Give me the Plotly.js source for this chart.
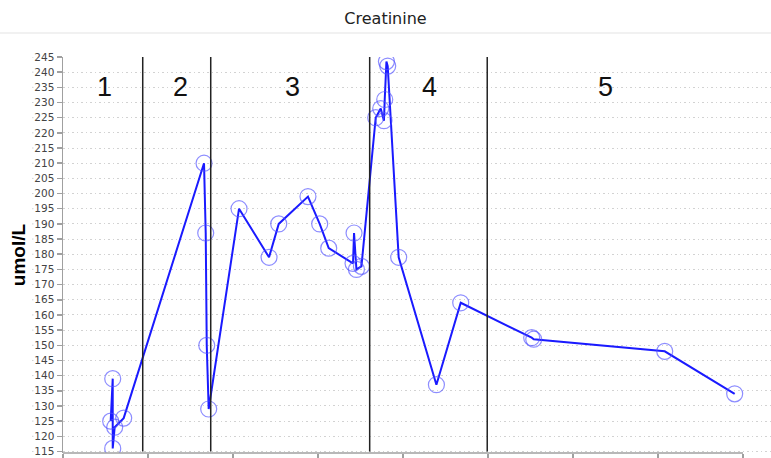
<!DOCTYPE html>
<html>
<head>
<meta charset="utf-8">
<script src="https://cdn.plot.ly/plotly-3.0.1.min.js"></script>
<style>html,body{margin:0;padding:0;background:#fff;}#chart{width:771px;height:458px;}</style>
</head>
<body>
<div id="chart"></div>
<script>
// Time positions (arbitrary units, one x tick = 1 unit) and creatinine values
const xValues = [0.561, 0.585, 0.585, 0.608, 0.714,
                 1.659, 1.679, 1.691, 1.714,
                 2.071, 2.424, 2.538, 2.882, 3.020, 3.126, 3.412, 3.424, 3.452, 3.511,
                 3.679, 3.738, 3.776, 3.785, 3.805, 3.820, 3.949,
                 4.393, 4.679, 5.514, 5.538, 7.079, 7.902];
const creatinine = [125, 139, 116, 123, 126,
                    210, 187, 150, 129,
                    195, 179, 190, 199, 190, 182, 177, 187, 175, 176,
                    225, 228, 224, 231, 243.5, 242, 179,
                    137, 164, 152.5, 152, 148, 134];
// Phase boundaries and phase labels
const phaseBoundaries = [0.938, 1.738, 3.608, 4.991];
const phaseLabels = ['1', '2', '3', '4', '5'];
const phaseLabelX = [0.49, 1.385, 2.702, 4.314, 6.384];
const phaseLabelY = 235;
const xTicks = [0, 1, 2, 3, 4, 5, 6, 7, 8];
const yTicks = [];
for (let v = 115; v <= 245; v += 5) yTicks.push(v);

const trace = {
  x: xValues, y: creatinine, type: 'scatter', mode: 'lines+markers',
  line: {color: '#1a1aff', width: 2},
  marker: {symbol: 'circle-open', size: 16, color: 'rgba(80,80,255,0.65)', line: {width: 1.2, color: 'rgba(80,80,255,0.65)'}},
  hoverinfo: 'x+y'
};

const gridColor = '#d2d2d2';
const gridDash = '1.5px,3px';
const shapes = [];
phaseBoundaries.forEach(b => shapes.push({type: 'line', xref: 'x', yref: 'y', x0: b, x1: b, y0: 115, y1: 245.5, line: {color: '#222', width: 1.5}}));
// x axis line up to last tick
shapes.push({type: 'line', xref: 'x', yref: 'paper', x0: xTicks[0], x1: xTicks[xTicks.length - 1], y0: 0, y1: 0, line: {color: '#a0a0a0', width: 1.5}});
// title separator line
shapes.push({type: 'line', xref: 'paper', yref: 'paper', x0: -63 / 708, x1: 1, y0: 1 + 24 / 396, y1: 1 + 24 / 396, line: {color: '#e3e3e3', width: 1}});
// grid stubs left of tick labels
yTicks.forEach(v => shapes.push({type: 'line', xref: 'paper', yref: 'y', x0: -31 / 708, x1: -27 / 708, y0: v, y1: v, layer: 'below', line: {color: gridColor, width: 1, dash: gridDash}}));

const annotations = phaseLabels.map((t, i) => ({
  x: phaseLabelX[i], y: phaseLabelY, xref: 'x', yref: 'y', text: t, showarrow: false,
  font: {family: 'Liberation Sans, Arial, sans-serif', size: 27, color: '#111'}
}));

const layout = {
  width: 771, height: 458,
  margin: {l: 63, r: 0, t: 57, b: 5, pad: 0},
  paper_bgcolor: '#fff', plot_bgcolor: '#fff',
  showlegend: false,
  title: {text: 'Creatinine', x: 0.5, xref: 'container', y: 1 - 18 / 458, yref: 'container', yanchor: 'middle',
          font: {family: 'DejaVu Sans, sans-serif', size: 16, color: '#222'}},
  xaxis: {range: [0, 708 / 85], tickvals: xTicks, ticks: 'outside', ticklen: 5, tickwidth: 1.5, tickcolor: '#a0a0a0',
          showticklabels: false, showgrid: false, zeroline: false, showline: false, fixedrange: true},
  yaxis: {range: [114.5, 245], tickvals: yTicks, ticktext: yTicks.map(String), ticks: 'outside', ticklen: 5, tickwidth: 1.5,
          tickcolor: '#a0a0a0', showline: true, linecolor: '#a0a0a0', linewidth: 1.5, zeroline: false,
          showgrid: true, gridcolor: gridColor, gridwidth: 1, griddash: gridDash,
          tickfont: {family: 'DejaVu Sans, sans-serif', size: 10.5, color: '#444'},
          title: {text: '<b>umol/L</b>', standoff: 3, font: {family: 'Liberation Sans, Arial, sans-serif', size: 19, color: '#000'}},
          automargin: false, fixedrange: true},
  shapes: shapes,
  annotations: annotations
};

Plotly.newPlot('chart', [trace], layout, {displayModeBar: false, staticPlot: true});
</script>
</body>
</html>
